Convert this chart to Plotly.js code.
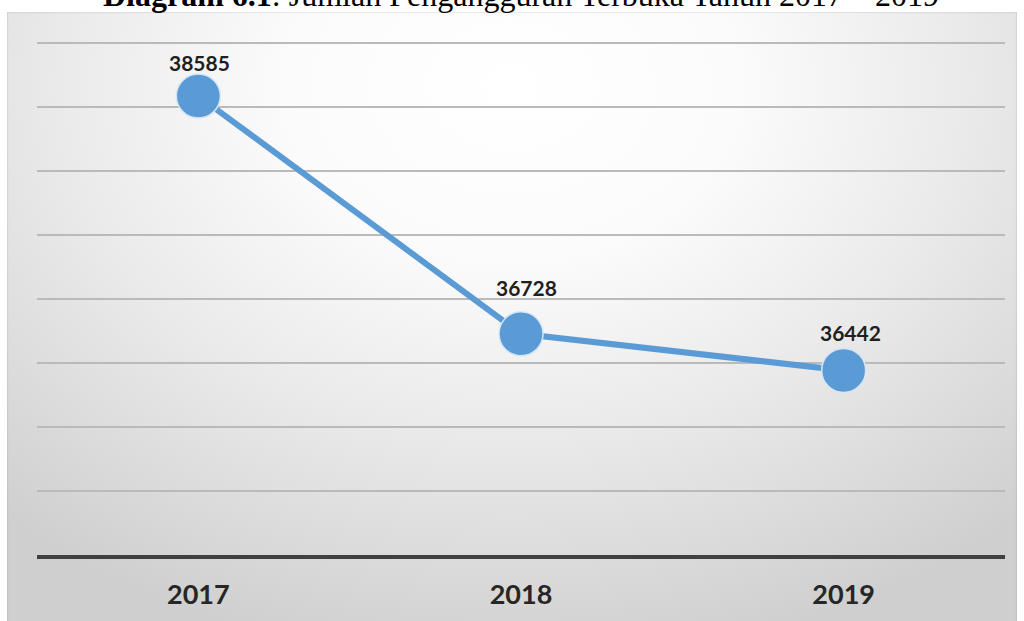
<!DOCTYPE html>
<html>
<head>
<meta charset="utf-8">
<script src="https://cdn.plot.ly/plotly-3.0.1.min.js"></script>
<style>
  html, body { margin:0; padding:0; background:#ffffff; }
  #wrap { position:relative; width:1024px; height:621px; overflow:hidden; background:#ffffff; }
  #box { position:absolute; left:7px; top:12px; width:1010px; height:612px;
         background: radial-gradient(ellipse 75% 95% at 50% 12%, #ffffff 0%, #fbfbfb 30%, #eaeaea 60%, #cfcfcf 100%);
         box-shadow: inset 0 0 2px rgba(0,0,0,0.25); }
  #chart { position:absolute; left:0; top:0; width:1024px; height:621px; }
</style>
</head>
<body>
<div id="wrap">
  <div id="box"></div>
  <div id="chart"></div>
</div>
<script>
const years = ['2017', '2018', '2019'];
const unemployed = [38585, 36728, 36442];
const titleText = '<b>Diagram 6.1</b>: Jumlah Pengangguran Terbuka Tahun 2017 – 2019';

// label placement offsets (pixels), style only
const labelDx = [1, 5, 7];
const labelDy = [34, 46, 38];

const trace = {
  x: years,
  y: unemployed,
  type: 'scatter',
  mode: 'lines+markers',
  line: { color: '#5b9bd5', width: 6 },
  marker: { color: '#5b9bd5', size: 44, line: { color: '#d6e6f5', width: 1.5 } },
  hoverinfo: 'x+y'
};

const labelAnns = years.map((yr, i) => ({
  x: i, y: unemployed[i], xref: 'x', yref: 'y',
  text: '<b>' + unemployed[i] + '</b>',
  showarrow: false, yshift: labelDy[i], xshift: labelDx[i],
  font: { family: 'Lato, Carlito, sans-serif', size: 21, color: '#1f1f1f' }
}));

const layout = {
  width: 1024, height: 621,
  margin: { l: 37, r: 19, t: 40, b: 66, pad: 0 },
  paper_bgcolor: 'rgba(0,0,0,0)',
  plot_bgcolor: 'rgba(0,0,0,0)',
  showlegend: false,
  xaxis: {
    type: 'category', range: [-0.5, 2.5],
    showgrid: false, zeroline: false,
    showline: true, linecolor: '#404040', linewidth: 4,
    ticks: '', ticklabelstandoff: 13,
    tickfont: { family: 'Lato, Carlito, sans-serif', size: 27, color: '#262626', weight: 'bold' },
    fixedrange: true
  },
  yaxis: {
    range: [35000, 39023], dtick: 500, tick0: 35000,
    showgrid: true, gridcolor: '#bababa', gridwidth: 2,
    zeroline: false, showline: false, showticklabels: false, ticks: '',
    fixedrange: true
  },
  annotations: labelAnns.concat([{
    xref: 'paper', yref: 'paper', x: 0.5, y: 1.087, xanchor: 'center', yanchor: 'middle',
    text: titleText, showarrow: false,
    font: { family: 'Liberation Serif, Times New Roman, serif', size: 32, color: '#000000' }
  }])
};

Plotly.newPlot('chart', [trace], layout, { displayModeBar: false });
</script>
</body>
</html>
